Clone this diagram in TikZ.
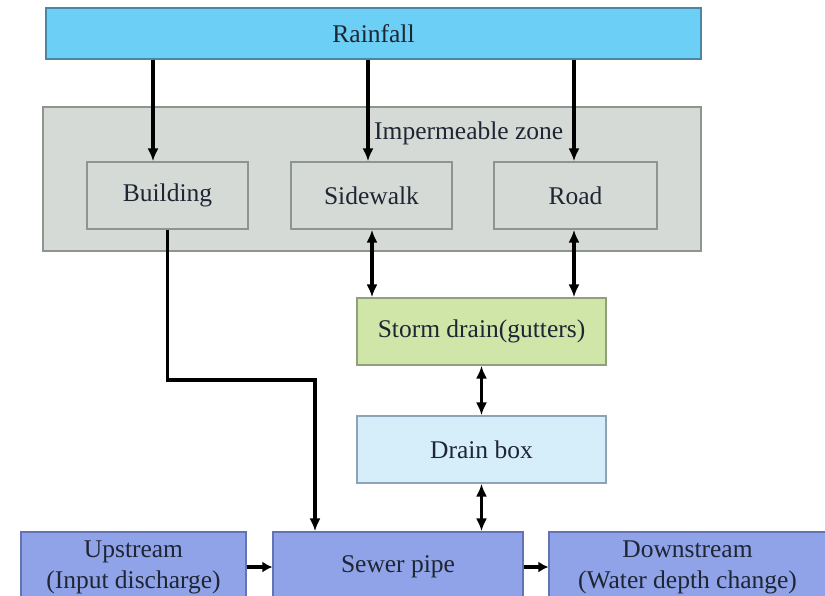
\documentclass[tikz,border=0pt]{standalone}
\usepackage{fontspec}
\setmainfont{Liberation Serif}
\usetikzlibrary{arrows.meta,calc}
\definecolor{rainF}{HTML}{6CCFF6}
\definecolor{rainD}{HTML}{4A86A6}
\definecolor{zoneF}{HTML}{D6DAD6}
\definecolor{zoneD}{HTML}{8E948E}
\definecolor{stormF}{HTML}{D0E5A8}
\definecolor{stormD}{HTML}{8FA07A}
\definecolor{drainF}{HTML}{D6EEFA}
\definecolor{drainD}{HTML}{8CA4B6}
\definecolor{pipeF}{HTML}{90A2E8}
\definecolor{pipeD}{HTML}{6373B4}
\definecolor{txt}{HTML}{1E2633}
\begin{document}
\begin{tikzpicture}[x=1pt,y=-1pt,
  boxstyle/.style={draw, line width=1.2pt, rectangle, inner sep=0pt, align=center,
    font=\fontsize{25.5}{31}\selectfont, text=txt},
  arr/.style={line width=3.2pt, -{Latex[length=13pt,width=11pt]}},
  darr/.style={line width=3.2pt, {Latex[length=13pt,width=11pt]}-{Latex[length=13pt,width=11pt]}},
  harr/.style={line width=3.6pt, -{Latex[length=10pt,width=11pt]}}]
\useasboundingbox (0,0) rectangle (825,595);
\clip (0,0) rectangle (825,595);
\fill[white] (0,0) rectangle (825,595);
% boxes
\node[boxstyle, fill=rainF, draw=rainD, minimum width=655pt, minimum height=51pt] (rain) at (373.5,33.5) {Rainfall};
\node[boxstyle, fill=zoneF, draw=zoneD, minimum width=658pt, minimum height=144pt] (zone) at (372,179) {};
\node[font=\fontsize{25.5}{31}\selectfont, text=txt, anchor=west, inner sep=0pt] (zlabel) at (374,133) {Impermeable zone};
\node[boxstyle, fill=zoneF, draw=zoneD, minimum width=161pt, minimum height=67pt] (bld) at (167.5,195.5) {Building};
\node[boxstyle, fill=zoneF, draw=zoneD, minimum width=161pt, minimum height=67pt] (side) at (371.5,195.5) {Sidewalk};
\node[boxstyle, fill=zoneF, draw=zoneD, minimum width=163pt, minimum height=67pt] (road) at (575.5,195.5) {Road};
\node[boxstyle, fill=stormF, draw=stormD, minimum width=249pt, minimum height=67pt] (storm) at (481.5,331.5) {Storm drain(gutters)};
\node[boxstyle, fill=drainF, draw=drainD, minimum width=249pt, minimum height=67pt] (dbox) at (481.5,449.5) {Drain box};
\node[boxstyle, fill=pipeF, draw=pipeD, minimum width=250pt, minimum height=70pt] (sewer) at (398,567) {Sewer pipe};
\node[boxstyle, fill=pipeF, draw=pipeD, minimum width=225pt, minimum height=70pt] (up) at (133.5,567) {Upstream\\(Input discharge)};
\node[boxstyle, fill=pipeF, draw=pipeD, minimum width=277pt, minimum height=70pt] (down) at (687.5,567) {Downstream\\(Water depth change)};
% helper coordinates
\coordinate (cb) at (153,0);
\coordinate (cs) at (368,0);
\coordinate (cr) at (574,0);
\coordinate (ds) at (372,0);
\coordinate (dr) at (574,0);
\coordinate (turn) at (315,380);
% connectors
\draw[arr] (rain.south -| cb) -- (bld.north -| cb);
\draw[arr] (rain.south -| cs) -- (side.north -| cs);
\draw[arr] (rain.south -| cr) -- (road.north -| cr);
\draw[arr] (bld.south) -- (bld.south |- turn) -- (turn) -- (sewer.north -| turn);
\draw[darr] (side.south -| ds) -- (storm.north -| ds);
\draw[darr] (road.south -| dr) -- (storm.north -| dr);
\draw[darr] (storm.south) -- (dbox.north);
\draw[darr] (dbox.south) -- (sewer.north -| dbox.south);
\draw[harr] (up.east) -- (sewer.west);
\draw[harr] (sewer.east) -- (down.west);
\end{tikzpicture}
\end{document}
